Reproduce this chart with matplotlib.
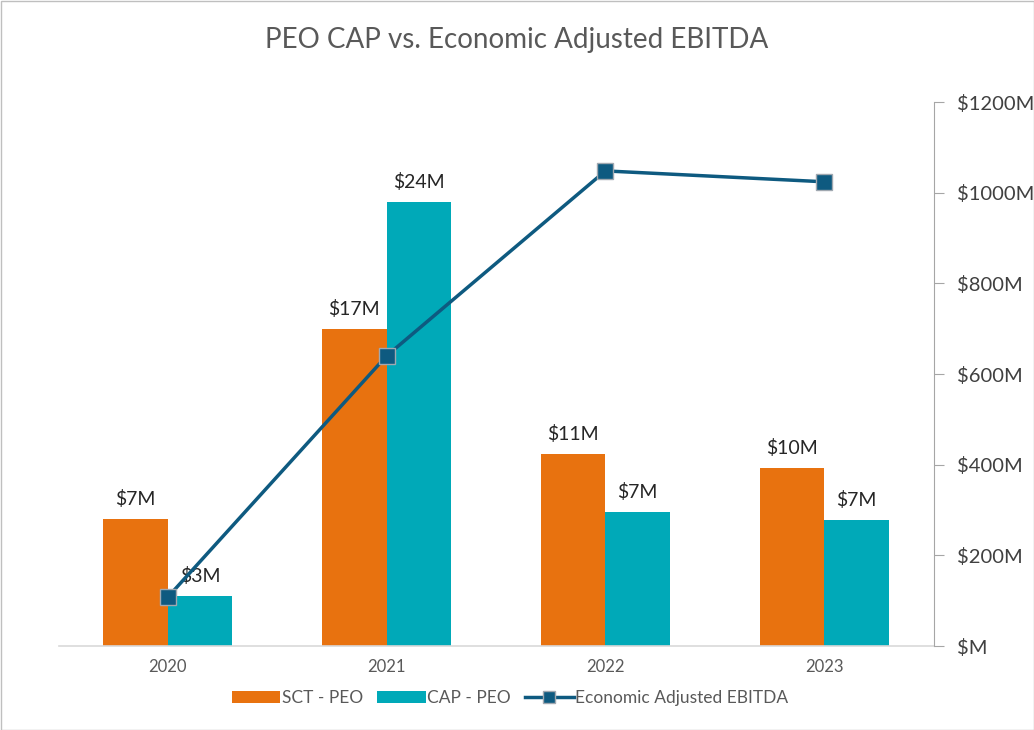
import matplotlib
matplotlib.use("Agg")
import matplotlib.pyplot as plt
import numpy as np
from matplotlib.patches import Rectangle

plt.rcParams['font.family'] = ['Lato', 'DejaVu Sans']

years = ["2020", "2021", "2022", "2023"]
sct_peo = [7.0, 17.5, 10.6, 9.8]
cap_peo = [2.76, 24.5, 7.4, 6.95]
sct_labels = ["$7M", "$17M", "$11M", "$10M"]
cap_labels = ["$3M", "$24M", "$7M", "$7M"]
ebitda = [108, 640, 1048, 1024]
right_ticks = [0, 200, 400, 600, 800, 1000, 1200]
right_labels = ["$M", "$200M", "$400M", "$600M", "$800M", "$1000M", "$1200M"]

orange = "#E8720F"
teal = "#00A9B8"
navy = "#0E5A80"

W, H = 1034, 730
fig = plt.figure(figsize=(W/100, H/100), dpi=100)
fig.patches.append(Rectangle((0.5/W, 0.5/H), 1-1/W, 1-1/H, transform=fig.transFigure,
                             fill=False, edgecolor="#BFBFBF", linewidth=1))

left, right, bottom, top = 58.5, 933.5, 646, 102
ax = fig.add_axes([left/W, 1-bottom/H, (right-left)/W, (bottom-top)/H])
x = np.arange(len(years))
bw = 0.295
ax.bar(x - bw/2, sct_peo, bw, color=orange, label="SCT - PEO")
ax.bar(x + bw/2, cap_peo, bw, color=teal, label="CAP - PEO")
ax.set_xlim(-0.5, 3.5)
ax.set_ylim(0, 30)
for xi, v, l in zip(x, sct_peo, sct_labels):
    ax.text(xi - bw/2, v + 0.6, l, ha="center", va="bottom", fontsize=14, color="#262626")
for xi, v, l in zip(x, cap_peo, cap_labels):
    ax.text(xi + bw/2, v + 0.6, l, ha="center", va="bottom", fontsize=14, color="#262626")
ax.set_yticks([])
for s in ["left", "top", "right"]:
    ax.spines[s].set_visible(False)
ax.spines["bottom"].set_color("#D9D9D9")
ax.spines["bottom"].set_linewidth(1.2)
ax.set_xticks(x)
ax.set_xticklabels(years, fontsize=12, color="#595959")
ax.tick_params(axis="x", length=0, pad=9)

ax2 = ax.twinx()
ax2.plot(x, ebitda, color=navy, linewidth=2.5, marker="s", markersize=11,
         markerfacecolor=navy, markeredgecolor="#A0A8B0", markeredgewidth=1,
         label="Economic Adjusted EBITDA")
ax2.set_ylim(0, 1200)
ax2.set_yticks(right_ticks)
ax2.set_yticklabels(right_labels, fontsize=14.5, color="#404040")
ax2.tick_params(axis="y", length=7, color="#A6A6A6", pad=10)
for s in ["left", "top", "bottom"]:
    ax2.spines[s].set_visible(False)
ax2.spines["right"].set_color("#A6A6A6")

fig.text(0.5, 1 - 40/H, "PEO CAP vs. Economic Adjusted EBITDA", ha="center", va="center",
         fontsize=20, color="#595959")

h1, l1 = ax.get_legend_handles_labels()
h2, l2 = ax2.get_legend_handles_labels()
fig.legend(h1 + h2, l1 + l2, loc="center", bbox_to_anchor=(510/W, 1 - 698/H), ncol=3,
           frameon=False, fontsize=12.5, labelcolor="#595959", handlelength=2.8,
           handletextpad=0.1, columnspacing=0.8, markerscale=0.8)

fig.savefig("out.png", dpi=100)
